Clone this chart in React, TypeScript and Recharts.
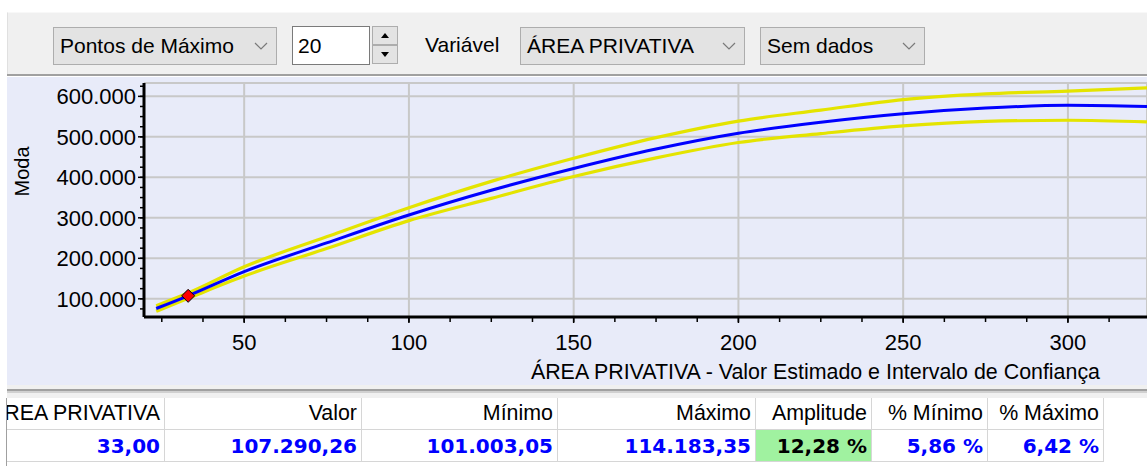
import React from 'react';
import { ComposedChart, Line, Scatter, XAxis, YAxis, CartesianGrid, Label } from 'recharts';

// ---------- data ----------
const area = [23.3, 33, 50, 75, 100, 125, 150, 175, 200, 225, 250, 275, 300, 324];
const valor = [76000, 107290.26, 167000, 238000, 307000, 368000, 422000, 470000, 509000, 536000, 557000, 571000, 578000, 575000];
const maximo = [83000, 114183.35, 179000, 253000, 325000, 390000, 447000, 498000, 539000, 566000, 592000, 606000, 613000, 621000];
const minimo = [69000, 101003.05, 156000, 224000, 293000, 348000, 402000, 448000, 486000, 508000, 527000, 538000, 541000, 537000];

const pontoArea = [33];
const pontoValor = [107290.26];

const xMajorTicks = [50, 100, 150, 200, 250, 300];
const xMinorTicks = [25, 37.5, 50, 62.5, 75, 87.5, 100, 112.5, 125, 137.5, 150, 162.5, 175, 187.5, 200, 212.5, 225, 237.5, 250, 262.5, 275, 287.5, 300, 312.5];
const yMajorTicks = [100000, 200000, 300000, 400000, 500000, 600000];
const yMinorTicks = [75000, 100000, 125000, 150000, 175000, 200000, 225000, 250000, 275000, 300000, 325000, 350000, 375000, 400000, 425000, 450000, 475000, 500000, 525000, 550000, 575000, 600000, 625000];

const xTitle = 'ÁREA PRIVATIVA - Valor Estimado e Intervalo de Confiança';
const yTitle = 'Moda';

const tableHeaders = ['ÁREA PRIVATIVA', 'Valor', 'Mínimo', 'Máximo', 'Amplitude', '% Mínimo', '% Máximo'];
const tableValues = ['33,00', '107.290,26', '101.003,05', '114.183,35', '12,28 %', '5,86 %', '6,42 %'];

const toolbarMode = 'Pontos de Máximo';
const toolbarCount = '20';
const toolbarVarLabel = 'Variável';
const toolbarVar = 'ÁREA PRIVATIVA';
const toolbarData = 'Sem dados';

// ---------- build ----------
const chartData = area.map((a, i) => ({ area: a, valor: valor[i], maximo: maximo[i], minimo: minimo[i] }));
const pointData = pontoArea.map((a, i) => ({ area: a, valor: pontoValor[i] }));

const FONT = '"Liberation Sans", Arial, sans-serif';
const BOLD_FONT = '"DejaVu Sans", Verdana, sans-serif';

const fmtThousands = (v: number) => {
  const s = Math.round(v).toString();
  return s.replace(/\B(?=(\d{3})+(?!\d))/g, '.');
};

const EmptyTick = () => <g />;

const Diamond = (p: any) => {
  const { cx, cy } = p;
  if (cx == null || cy == null) return null;
  const r = 6.5;
  return (
    <polygon
      points={`${cx},${cy - r} ${cx + r},${cy} ${cx},${cy + r} ${cx - r},${cy}`}
      fill="#ff0000"
      stroke="#000"
      strokeWidth={1}
    />
  );
};

const XTitle = (props: any) => {
  const vb = props.viewBox || { x: 137, y: 241, width: 1003, height: 67 };
  return (
    <text x={vb.x + vb.width - 47} y={vb.y + 62} textAnchor="end" fontFamily={FONT} fontSize={21.4} fill="#000">
      {xTitle}
    </text>
  );
};

const YTitle = (props: any) => {
  const vb = props.viewBox || { x: 0, y: 6, width: 136, height: 234 };
  const cx = vb.x + 14.5;
  const cy = vb.y + 88.5;
  return (
    <text
      x={cx}
      y={cy}
      transform={`rotate(-90 ${cx} ${cy})`}
      textAnchor="middle"
      dominantBaseline="central"
      fontFamily={FONT}
      fontSize={20}
      fill="#000"
    >
      {yTitle}
    </text>
  );
};

const Chevron = ({ right, top }: { right: number; top: number }) => (
  <svg style={{ position: 'absolute', right, top }} width={14} height={9}>
    <polyline points="1,1 7,7 13,1" fill="none" stroke="#7a7a7a" strokeWidth={1.2} />
  </svg>
);

const Combo = ({ left, width, text }: { left: number; width: number; text: string }) => (
  <div
    style={{
      position: 'absolute',
      left,
      top: 27,
      width,
      height: 38,
      boxSizing: 'border-box',
      border: '1px solid #adadad',
      background: '#e3e3e3',
      fontFamily: FONT,
      fontSize: 21,
      lineHeight: '36px',
      paddingLeft: 6,
      color: '#000',
      whiteSpace: 'nowrap',
    }}
  >
    {text}
    <Chevron right={8} top={14} />
  </div>
);

const colEdges = [7, 165, 362, 558, 756, 872, 988, 1104];

export default function App() {
  return (
    <div
      style={{
        position: 'fixed',
        left: 0,
        top: 0,
        width: 1147,
        height: 466,
        background: '#ffffff',
        overflow: 'hidden',
        fontFamily: FONT,
      }}
    >
      {/* toolbar */}
      <div style={{ position: 'absolute', left: 7, top: 12, width: 1140, height: 62, background: '#f0f0f0', borderTop: '1px solid #f8f8f8', borderLeft: '1px solid #e0e0e0' }} />
      <div style={{ position: 'absolute', left: 7, top: 74, width: 1140, height: 2, background: '#a0a0a0' }} />
      <Combo left={53} width={224} text={toolbarMode} />
      <div
        style={{
          position: 'absolute',
          left: 292,
          top: 26,
          width: 78,
          height: 39,
          boxSizing: 'border-box',
          border: '1px solid #7a7a7a',
          background: '#fff',
          fontFamily: FONT,
          fontSize: 21,
          lineHeight: '37px',
          paddingLeft: 5,
          color: '#000',
        }}
      >
        {toolbarCount}
      </div>
      <div style={{ position: 'absolute', left: 372, top: 26, width: 26, height: 19, boxSizing: 'border-box', border: '1px solid #adadad', background: '#e3e3e3' }}>
        <svg width={24} height={17} style={{ position: 'absolute', left: 0, top: 0 }}>
          <polygon points="8,11 16,11 12,6" fill="#000" />
        </svg>
      </div>
      <div style={{ position: 'absolute', left: 372, top: 45, width: 26, height: 19, boxSizing: 'border-box', border: '1px solid #adadad', background: '#e3e3e3' }}>
        <svg width={24} height={17} style={{ position: 'absolute', left: 0, top: 0 }}>
          <polygon points="8,6 16,6 12,11" fill="#000" />
        </svg>
      </div>
      <div style={{ position: 'absolute', left: 425, top: 27, height: 38, lineHeight: '36px', fontFamily: FONT, fontSize: 21, color: '#000' }}>
        {toolbarVarLabel}
      </div>
      <Combo left={520} width={225} text={toolbarVar} />
      <Combo left={760} width={165} text={toolbarData} />

      {/* plot panel */}
      <div style={{ position: 'absolute', left: 7, top: 77, width: 1140, height: 308, background: '#e8ebf9' }}>
        <ComposedChart width={1140} height={308} data={chartData} margin={{ top: 6, right: 0, bottom: 0, left: 0 }}>
          <CartesianGrid stroke="#c8c8c8" strokeWidth={2} />
          <XAxis
            dataKey="area"
            type="number"
            domain={[19.6, 324]}
            allowDataOverflow
            ticks={xMajorTicks}
            interval={0}
            height={68}
            tickSize={6}
            tickMargin={11}
            axisLine={{ stroke: '#000', strokeWidth: 3 }}
            tickLine={{ stroke: '#000', strokeWidth: 1.5 }}
            tick={{ fill: '#000', fontSize: 22, fontFamily: FONT }}
          >
            <Label content={XTitle} />
          </XAxis>
          <XAxis
            xAxisId="minor"
            dataKey="area"
            type="number"
            domain={[19.6, 324]}
            allowDataOverflow
            mirror
            ticks={xMinorTicks}
            interval={0}
            height={2}
            axisLine={false}
            tickSize={-5}
            tickLine={{ stroke: '#000', strokeWidth: 1.5 }}
            tick={EmptyTick}
            tickFormatter={() => ''}
          />
          <YAxis
            type="number"
            domain={[55000, 633000]}
            allowDataOverflow
            ticks={yMajorTicks}
            interval={0}
            width={137}
            tickSize={6}
            tickMargin={2}
            tickFormatter={fmtThousands}
            axisLine={{ stroke: '#000', strokeWidth: 3 }}
            tickLine={{ stroke: '#000', strokeWidth: 1.5 }}
            tick={{ fill: '#000', fontSize: 22, fontFamily: FONT }}
          >
            <Label content={YTitle} />
          </YAxis>
          <YAxis
            yAxisId="minor"
            type="number"
            domain={[55000, 633000]}
            allowDataOverflow
            mirror
            ticks={yMinorTicks}
            interval={0}
            width={2}
            axisLine={false}
            tickSize={-4}
            tickLine={{ stroke: '#000', strokeWidth: 1.5 }}
            tick={EmptyTick}
            tickFormatter={() => ''}
          />
          <Line type="monotone" dataKey="maximo" stroke="#e4e400" strokeWidth={3.2} dot={false} activeDot={false} isAnimationActive={false} />
          <Line type="monotone" dataKey="minimo" stroke="#e4e400" strokeWidth={3.2} dot={false} activeDot={false} isAnimationActive={false} />
          <Line type="monotone" dataKey="valor" stroke="#0000ff" strokeWidth={3} dot={false} activeDot={false} isAnimationActive={false} />
          <Scatter
            data={pointData}
            dataKey="valor"
            xAxisId="minor"
            yAxisId="minor"
            shape={Diamond}
            isAnimationActive={false}
          />
        </ComposedChart>
      </div>

      {/* splitter */}
      <div style={{ position: 'absolute', left: 7, top: 385, width: 1140, height: 13, background: '#f0f0f0' }} />
      <div style={{ position: 'absolute', left: 7, top: 389, width: 1140, height: 2, background: '#a0a0a0' }} />
      <div style={{ position: 'absolute', left: 7, top: 391, width: 1140, height: 2, background: '#d0d0d0' }} />

      {/* table */}
      <div style={{ position: 'absolute', left: 6, top: 398, width: 1, height: 68, background: '#a0a0a0' }} />
      {tableHeaders.map((h, i) => (
        <div
          key={'h' + i}
          style={{
            position: 'absolute',
            left: colEdges[i],
            top: 398,
            width: colEdges[i + 1] - colEdges[i],
            height: 32,
            boxSizing: 'border-box',
            borderRight: '1px solid #d6d6d6',
            borderBottom: '1px solid #d6d6d6',
            background: '#fff',
            overflow: 'hidden',
            display: 'flex',
            justifyContent: 'flex-end',
            alignItems: 'center',
            paddingRight: 4,
            fontFamily: FONT,
            fontSize: 21.4,
            color: '#000',
            whiteSpace: 'nowrap',
          }}
        >
          <span style={{ flexShrink: 0 }}>{h}</span>
        </div>
      ))}
      {tableValues.map((v, i) => (
        <div
          key={'v' + i}
          style={{
            position: 'absolute',
            left: colEdges[i],
            top: 430,
            width: colEdges[i + 1] - colEdges[i],
            height: 32,
            boxSizing: 'border-box',
            borderRight: '1px solid #d6d6d6',
            borderBottom: '1px solid #d6d6d6',
            background: i === 4 ? '#a0f2a0' : '#fff',
            overflow: 'hidden',
            display: 'flex',
            justifyContent: 'flex-end',
            alignItems: 'center',
            paddingRight: 4,
            fontFamily: BOLD_FONT,
            fontWeight: 'bold',
            fontSize: 20,
            color: i === 4 ? '#000' : '#0000ff',
            whiteSpace: 'nowrap',
          }}
        >
          <span style={{ flexShrink: 0 }}>{v}</span>
        </div>
      ))}
    </div>
  );
}
